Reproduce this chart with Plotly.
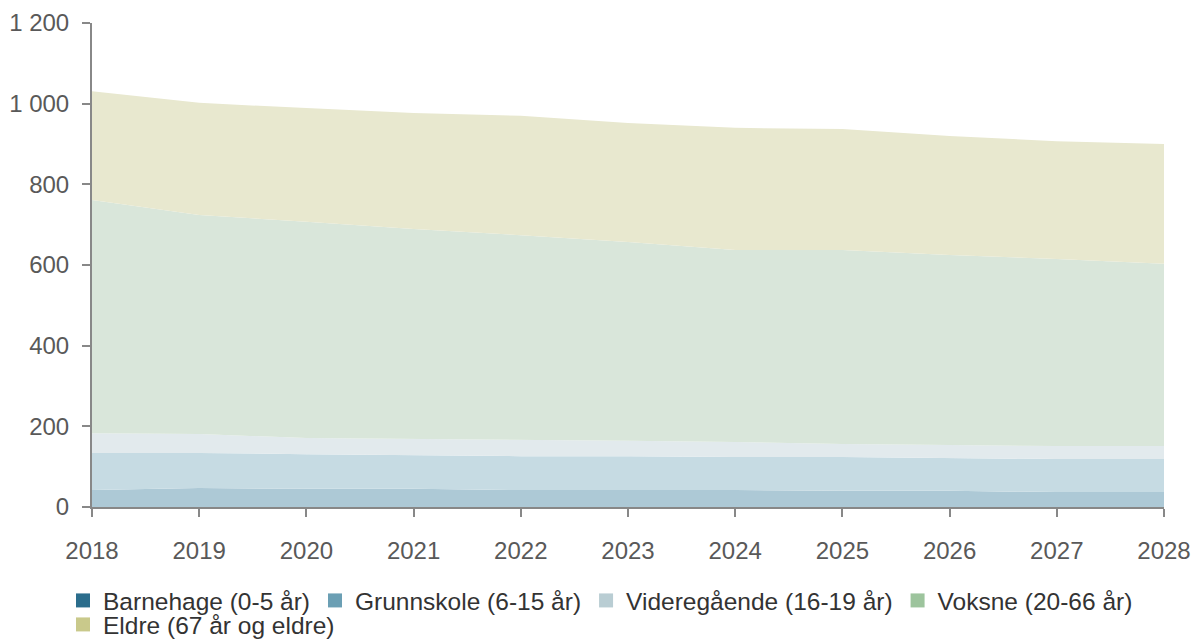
import plotly.graph_objects as go

years = [2018, 2019, 2020, 2021, 2022, 2023, 2024, 2025, 2026, 2027, 2028]

# Per-series values (stacked)
barnehage = [42, 47, 45, 45, 42, 42, 42, 40, 40, 37, 37]
grunnskole = [92, 87, 86, 84, 84, 84, 82, 84, 81, 82, 82]
videregaende = [49, 47, 40, 40, 40, 38, 37, 32, 33, 32, 32]
voksne = [578, 543, 536, 520, 508, 493, 476, 481, 471, 464, 452]
eldre = [270, 278, 282, 288, 296, 295, 303, 300, 295, 292, 297]

names = ["Barnehage (0-5 år)", "Grunnskole (6-15 år)", "Videregående (16-19 år)",
         "Voksne (20-66 år)", "Eldre (67 år og eldre)"]
series = [barnehage, grunnskole, videregaende, voksne, eldre]
fill_colors = ["#adc9d6", "#c6dbe3", "#e2eaed", "#d9e6da", "#e8e8cf"]
legend_colors = ["#2b6d8c", "#6b9fb4", "#b9cdd3", "#9dc49d", "#c9c98b"]
legend_ids = ["legend", "legend", "legend", "legend", "legend2"]

y_ticks = [0, 200, 400, 600, 800, 1000, 1200]
y_ticktext = ["0", "200", "400", "600", "800", "1 000", "1 200"]

fig = go.Figure()
for name, vals, fc in zip(names, series, fill_colors):
    fig.add_trace(go.Scatter(x=years, y=vals, name=name, stackgroup="one",
                             mode="lines", line=dict(width=0, color=fc),
                             fillcolor=fc, showlegend=False, hoverinfo="skip"))
for name, lc, lid in zip(names, legend_colors, legend_ids):
    fig.add_trace(go.Scatter(x=[None], y=[None], name=name, mode="markers",
                             marker=dict(symbol="square", size=14, color=lc),
                             legend=lid))

L, R, T, B = 84, 43, 15, 142
W, H = 1199, 641
pw, ph = W - L - R, H - T - B


def px_x(xf):
    return (xf - L) / pw


def px_y(yf):
    return (H - B - yf) / ph


font_color = "#595959"
legend_common = dict(orientation="h", xref="paper", yref="paper",
                     x=px_x(55), xanchor="left", yanchor="top",
                     font=dict(size=24.5, color="#333333"),
                     itemwidth=30, traceorder="normal",
                     bgcolor="rgba(0,0,0,0)")
fig.update_layout(
    width=W, height=H,
    paper_bgcolor="white", plot_bgcolor="white",
    margin=dict(l=L, r=R, t=T, b=B, autoexpand=False),
    font=dict(family="Liberation Sans, Arial, sans-serif", size=24, color=font_color),
    showlegend=True,
    legend=dict(y=px_y(570), **legend_common),
    legend2=dict(y=px_y(594), **legend_common),
)
fig.update_xaxes(range=[2018, 2028], tickvals=years, showgrid=False, zeroline=False,
                 showline=True, linecolor="#888888", linewidth=2, automargin=False,
                 ticks="outside", ticklen=8, tickcolor="#888888", tickwidth=2,
                 ticklabelstandoff=13)
fig.update_yaxes(range=[0, 1200], tickvals=y_ticks, ticktext=y_ticktext,
                 showgrid=False, zeroline=False, automargin=False,
                 showline=True, linecolor="#888888", linewidth=2,
                 ticks="outside", ticklen=8, tickcolor="#888888", tickwidth=2,
                 ticklabelstandoff=8)

fig.write_html("out.html")
